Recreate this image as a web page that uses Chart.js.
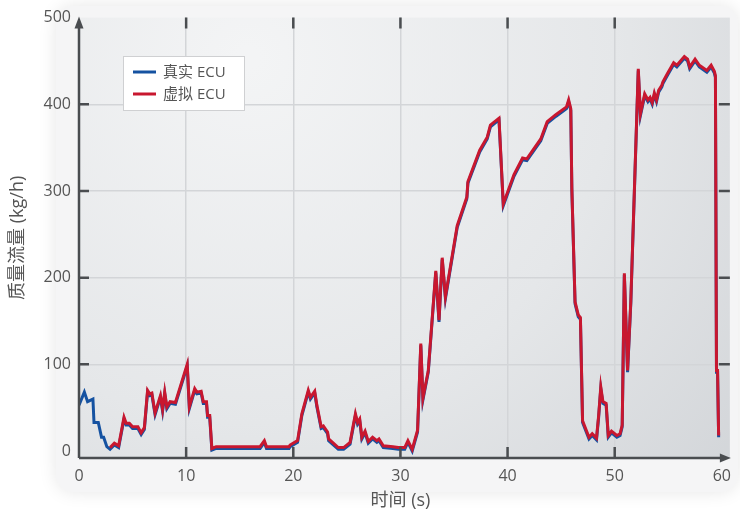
<!DOCTYPE html>
<html>
<head>
<meta charset="utf-8">
<script src="https://cdn.jsdelivr.net/npm/chart.js@4.4.1/dist/chart.umd.min.js"></script>
<style>
  html, body { margin: 0; padding: 0; background: #fff; }
  #wrap { width: 740px; height: 516px; }
</style>
</head>
<body>
<div id="wrap"><canvas id="flowChart" width="740" height="516"></canvas></div>
<script>
// time axis (s) shared by both series
const time = [
  0, 0.5, 0.8, 1.3, 1.4, 1.8, 2.1, 2.3, 2.6, 2.9,
  3.3, 3.7, 4.2, 4.4, 4.7, 5.0, 5.5, 5.8, 6.1, 6.4,
  6.6, 6.8, 7.1, 7.6, 7.8, 8.0, 8.2, 8.5, 9.0, 10.1,
  10.3, 10.8, 11.0, 11.4, 11.6, 11.9, 12.0, 12.2, 12.4, 12.8,
  16.9, 17.3, 17.5, 19.6, 19.7, 20.4, 20.8, 21.4, 21.6, 22.0,
  22.2, 22.6, 22.8, 23.2, 23.3, 24.2, 24.7, 25.3, 25.8, 26.0,
  26.2, 26.4, 26.7, 27.0, 27.4, 27.8, 28.0, 28.4, 29.3, 29.8,
  30.4, 30.7, 31.1, 31.6, 31.9, 32.1, 32.6, 33.3, 33.6, 33.9,
  34.2, 35.3, 36.2, 36.3, 37.4, 38.1, 38.4, 39.2, 39.6, 40.6,
  41.4, 41.8, 43.1, 43.7, 44.5, 45.5, 45.7, 45.9, 46.0, 46.3,
  46.6, 46.8, 47.0, 47.6, 47.9, 48.3, 48.5, 48.7, 48.9, 49.2,
  49.4, 49.7, 50.2, 50.5, 50.7, 50.9, 51.2, 51.5, 52.2, 52.4,
  52.8, 53.1, 53.3, 53.5, 53.7, 53.9, 54.1, 54.4, 54.5, 54.9,
  55.5, 55.8, 56.5, 56.8, 57.0, 57.5, 57.9, 58.6, 59.0, 59.3,
  59.4, 59.5, 59.6, 59.7
];

// 真实 ECU (blue)
const realFlow = [
  53, 68, 57, 60, 33, 33, 16, 16, 5, 2,
  7, 4, 37, 30, 30, 26, 26, 19, 25, 68,
  64, 65, 42, 62, 46, 66, 49, 55, 54, 98,
  49, 70, 66, 67, 55, 55, 39, 39, 1, 3,
  3, 10, 3, 3, 5, 10, 41, 68, 60, 67,
  51, 26, 27, 20, 12, 2, 2, 8, 41, 31,
  35, 14, 21, 9, 14, 10, 12, 4, 3, 2,
  2, 10, 0, 22, 122, 59, 91, 206, 149, 221,
  176, 258, 291, 309, 345, 360, 374, 382, 283, 317,
  336, 335, 358, 378, 386, 395, 403, 393, 301, 170,
  155, 152, 33, 14, 18, 13, 39, 72, 55, 53,
  16, 21, 16, 18, 28, 203, 91, 170, 439, 387,
  410, 403, 406, 400, 411, 403, 414, 420, 424, 433,
  446, 443, 453, 450, 441, 450, 443, 437, 443, 436,
  431, 91, 91, 16
];

// 虚拟 ECU (red), starts a little later
const virtualFlow = [
  null, null, null, null, null, null, null, null, null, 4,
  9, 6, 39, 32, 32, 28, 28, 21, 27, 70,
  66, 67, 44, 64, 48, 68, 51, 57, 56, 100,
  51, 72, 68, 69, 57, 57, 41, 41, 3, 5,
  5, 12, 5, 5, 7, 12, 43, 70, 62, 69,
  53, 28, 29, 22, 14, 4, 4, 10, 43, 33,
  37, 16, 23, 11, 16, 12, 14, 6, 5, 4,
  4, 12, 2, 24, 124, 61, 93, 208, 151, 223,
  178, 260, 293, 311, 347, 362, 376, 384, 285, 319,
  338, 337, 360, 380, 388, 397, 405, 395, 303, 172,
  157, 154, 35, 16, 20, 15, 41, 74, 57, 55,
  18, 23, 18, 20, 30, 205, 93, 172, 441, 389,
  412, 405, 408, 402, 413, 405, 416, 422, 426, 435,
  448, 445, 455, 452, 443, 452, 445, 439, 445, 438,
  433, 93, 93, 18
];

const xTickValues = [0, 10, 20, 30, 40, 50, 60];
const yTickValues = [0, 100, 200, 300, 400, 500];

const FONT = '"Open Sans", "Noto Sans CJK SC", sans-serif';
const TEXT = '#555';
const AXIS = '#4a4d50';
const BLUE = '#1552a1';
const RED = '#c8172f';

function toPoints(values) {
  return time.map((t, i) => ({ x: t, y: values[i] }));
}

// fond gris, axes avec fleches, petites graduations et legende
const decorPlugin = {
  id: 'decor',
  beforeDraw(chart) {
    const { ctx, chartArea: a } = chart;
    const right = a.right + 8;
    ctx.save();
    // panneau exterieur tres clair
    ctx.shadowColor = 'rgba(0,0,0,0.10)';
    ctx.shadowBlur = 18;
    ctx.fillStyle = '#f5f5f6';
    ctx.beginPath();
    ctx.roundRect(56, 6, 682, 486, 18);
    ctx.fill();
    ctx.restore();

    ctx.save();
    const g = ctx.createRadialGradient(a.left + 170, a.top + 40, 10, a.left + 170, a.top + 40, 720);
    g.addColorStop(0, '#f3f4f5');
    g.addColorStop(0.5, '#e5e7e9');
    g.addColorStop(1, '#cdd0d4');
    ctx.fillStyle = g;
    ctx.fillRect(a.left, a.top, right - a.left, a.bottom - a.top);
    ctx.restore();
  },
  afterDraw(chart) {
    const { ctx, chartArea: a, scales } = chart;
    const right = a.right + 8;
    ctx.save();
    ctx.strokeStyle = AXIS;
    ctx.fillStyle = AXIS;
    ctx.lineWidth = 2.5;

    // graduations
    xTickValues.slice(1, -1).forEach((v) => {
      const px = scales.x.getPixelForValue(v);
      ctx.beginPath();
      ctx.moveTo(px, a.bottom);
      ctx.lineTo(px, a.bottom - 11);
      ctx.moveTo(px, a.top);
      ctx.lineTo(px, a.top + 11);
      ctx.stroke();
    });
    yTickValues.slice(1, -1).forEach((v) => {
      const py = scales.y.getPixelForValue(v);
      ctx.beginPath();
      ctx.moveTo(a.left, py);
      ctx.lineTo(a.left + 10, py);
      ctx.moveTo(right, py);
      ctx.lineTo(right - 11, py);
      ctx.stroke();
    });

    // axe x + fleche
    ctx.beginPath();
    ctx.moveTo(a.left, a.bottom);
    ctx.lineTo(right - 6, a.bottom);
    ctx.stroke();
    ctx.beginPath();
    ctx.moveTo(right + 1, a.bottom);
    ctx.lineTo(right - 10, a.bottom - 4.5);
    ctx.lineTo(right - 10, a.bottom + 4.5);
    ctx.closePath();
    ctx.fill();

    // axe y + fleche
    ctx.beginPath();
    ctx.moveTo(a.left, a.bottom);
    ctx.lineTo(a.left, a.top + 6);
    ctx.stroke();
    ctx.beginPath();
    ctx.moveTo(a.left, a.top - 1);
    ctx.lineTo(a.left - 4.5, a.top + 11);
    ctx.lineTo(a.left + 4.5, a.top + 11);
    ctx.closePath();
    ctx.fill();

    // legende
    const lx = 123, ly = 56, lw = 122, lh = 55;
    ctx.fillStyle = '#ffffff';
    ctx.fillRect(lx, ly, lw, lh);
    ctx.strokeStyle = '#cfd0d2';
    ctx.lineWidth = 1;
    ctx.strokeRect(lx + 0.5, ly + 0.5, lw - 1, lh - 1);
    const rows = [72, 94];
    chart.data.datasets.slice().reverse().forEach((ds, i) => {
      ctx.strokeStyle = ds.borderColor;
      ctx.lineWidth = 3;
      ctx.beginPath();
      ctx.moveTo(133, rows[i]);
      ctx.lineTo(156, rows[i]);
      ctx.stroke();
      ctx.fillStyle = TEXT;
      ctx.font = '15px ' + FONT;
      ctx.textBaseline = 'middle';
      ctx.fillText(ds.label, 163, rows[i] + 1);
    });
    ctx.restore();
  }
};

const ctx = document.getElementById('flowChart').getContext('2d');
new Chart(ctx, {
  type: 'line',
  data: {
    datasets: [
      {
        label: '虚拟 ECU',
        data: toPoints(virtualFlow),
        borderColor: RED,
        borderWidth: 3,
        pointRadius: 0,
        tension: 0,
        order: 1,
      },
      {
        label: '真实 ECU',
        data: toPoints(realFlow),
        borderColor: BLUE,
        borderWidth: 3,
        pointRadius: 0,
        tension: 0,
        order: 2,
      },
    ],
  },
  options: {
    responsive: false,
    animation: false,
    devicePixelRatio: 1,
    layout: { padding: { top: 17, right: 14, left: 0, bottom: 0 } },
    plugins: {
      legend: { display: false },
      tooltip: { enabled: false },
    },
    scales: {
      x: {
        type: 'linear',
        min: 0,
        max: 60,
        afterBuildTicks: (scale) => { scale.ticks = xTickValues.map((v) => ({ value: v })); },
        afterFit: (scale) => { scale.height = 58; },
        border: { display: false },
        grid: {
          drawTicks: false,
          lineWidth: 1.5,
          color: (c) => (c.tick && (c.tick.value === 0 || c.tick.value === 60) ? 'rgba(0,0,0,0)' : '#d3d5d8'),
        },
        ticks: { padding: 9, color: TEXT, font: { family: FONT, size: 16 }, maxRotation: 0 },
        title: {
          display: true,
          text: '时间 (s)',
          color: TEXT,
          font: { family: FONT, size: 18 },
          padding: { top: 0, bottom: 4 },
        },
      },
      y: {
        min: -8,
        max: 500,
        afterBuildTicks: (scale) => { scale.ticks = yTickValues.map((v) => ({ value: v })); },
        afterFit: (scale) => { scale.width = 79; },
        border: { display: false },
        grid: {
          drawTicks: false,
          lineWidth: 1.5,
          color: (c) => (c.tick && (c.tick.value === 0 || c.tick.value === 500) ? 'rgba(0,0,0,0)' : '#d3d5d8'),
        },
        ticks: { padding: 8, color: TEXT, font: { family: FONT, size: 16 } },
        title: {
          display: true,
          text: '质量流量 (kg/h)',
          color: TEXT,
          font: { family: FONT, size: 18 },
          padding: { top: 7, bottom: 0 },
        },
      },
    },
  },
  plugins: [decorPlugin],
});
</script>
</body>
</html>
